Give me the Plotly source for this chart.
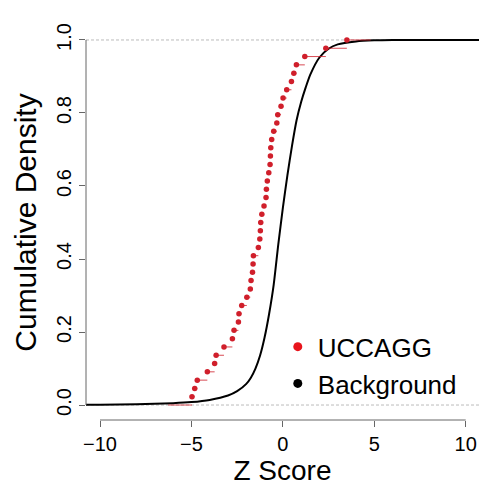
import plotly.graph_objects as go

# UCCAGG Z scores (sorted), read from the empirical CDF
uccagg_z = [-4.97, -4.82, -4.68, -4.13, -3.73, -3.65, -3.22, -2.76, -2.67, -2.43,
            -2.40, -2.25, -1.97, -1.78, -1.74, -1.66, -1.63, -1.61, -1.34, -1.26,
            -1.23, -1.21, -1.15, -1.03, -0.92, -0.90, -0.85, -0.77, -0.70, -0.68,
            -0.66, -0.61, -0.50, -0.33, -0.28, -0.10, 0.01, 0.21, 0.47, 0.60,
            0.74, 1.20, 2.35, 3.50]

# Background cumulative density curve
bg_z = [-10.77, -10, -8, -6, -5, -4, -3, -2.5, -2, -1.75, -1.5, -1.25, -1, -0.75,
        -0.5, -0.25, 0, 0.25, 0.5, 0.75, 1, 1.25, 1.5, 2, 2.5, 3, 4, 5, 6, 8, 10.73]
bg_cdf = [0.001, 0.001, 0.002, 0.005, 0.008, 0.014, 0.026, 0.038, 0.058, 0.075, 0.10,
          0.135, 0.185, 0.25, 0.33, 0.44, 0.54, 0.63, 0.71, 0.78, 0.83, 0.87, 0.905,
          0.952, 0.976, 0.988, 0.996, 0.999, 1.0, 1.0, 1.0]

x_ticks = [-10, -5, 0, 5, 10]
y_ticks = [0.0, 0.2, 0.4, 0.6, 0.8, 1.0]
y_tick_text = ["0.0", "0.2", "0.4", "0.6", "0.8", "1.0"]

X_RANGE = [-10.766, 10.727]
Y_RANGE = [-0.041, 1.041]
EXT = 1.3  # horizontal extension of first/last step

n = len(uccagg_z)
ecdf_y = [(i + 1) / n for i in range(n)]

# step segments
seg_x, seg_y = [], []
seg_x += [uccagg_z[0] - EXT, uccagg_z[0], None]
seg_y += [0, 0, None]
for i in range(n):
    nxt = uccagg_z[i + 1] if i + 1 < n else uccagg_z[i] + EXT
    seg_x += [uccagg_z[i], nxt, None]
    seg_y += [ecdf_y[i], ecdf_y[i], None]

RED = "#D01F2B"
FONT = "Liberation Sans, Arial, sans-serif"

fig = go.Figure()

# dashed reference lines at 0 and 1
for yv in [0, 1]:
    fig.add_shape(type="line", xref="paper", x0=0, x1=1, yref="y", y0=yv, y1=yv,
                  line=dict(color="#BBBBBB", width=1, dash="3px,2px"), layer="below")

fig.add_trace(go.Scatter(x=bg_z, y=bg_cdf, mode="lines", line=dict(color="black", width=2, shape="spline", smoothing=0.6),
                         showlegend=False, hoverinfo="skip"))
fig.add_trace(go.Scatter(x=seg_x, y=seg_y, mode="lines", line=dict(color=RED, width=1),
                         showlegend=False, hoverinfo="skip", opacity=0.8))
fig.add_trace(go.Scatter(x=uccagg_z, y=ecdf_y, mode="markers", marker=dict(color=RED, size=5.5),
                         showlegend=False))

# legend entries
fig.add_trace(go.Scatter(x=[None], y=[None], mode="markers", name="UCCAGG",
                         marker=dict(color="#E8141C", size=9)))
fig.add_trace(go.Scatter(x=[None], y=[None], mode="markers", name="Background",
                         marker=dict(color="black", size=9)))

# R-style axis lines
fig.add_shape(type="line", xref="x", x0=x_ticks[0], x1=x_ticks[-1], yref="paper", y0=0, y1=0,
              line=dict(color="#666666", width=1))
fig.add_shape(type="line", xref="paper", x0=0, x1=0, yref="y", y0=y_ticks[0], y1=y_ticks[-1],
              line=dict(color="#666666", width=1))

fig.update_layout(
    width=479, height=487,
    margin=dict(l=86, r=0, t=25, b=67),
    plot_bgcolor="white", paper_bgcolor="white",
    font=dict(family=FONT, color="black"),
    xaxis=dict(range=X_RANGE, showgrid=False, zeroline=False, showline=False,
               tickvals=x_ticks, ticks="outside", ticklen=6, tickcolor="#666666",
               tickfont=dict(size=20),
               title=dict(text="Z Score", font=dict(size=28), standoff=4)),
    yaxis=dict(range=Y_RANGE, showgrid=False, zeroline=False, showline=False,
               tickvals=y_ticks, ticktext=y_tick_text, ticks="outside", ticklen=6,
               tickcolor="#666666", tickangle=-90, tickfont=dict(size=20),
               title=dict(text="Cumulative Density", font=dict(size=30), standoff=7)),
    legend=dict(x=0.488, y=0.245, xanchor="left", yanchor="top", font=dict(size=26),
                bgcolor="rgba(0,0,0,0)", itemwidth=30, tracegroupgap=0),
)

fig.write_html("out.html")
